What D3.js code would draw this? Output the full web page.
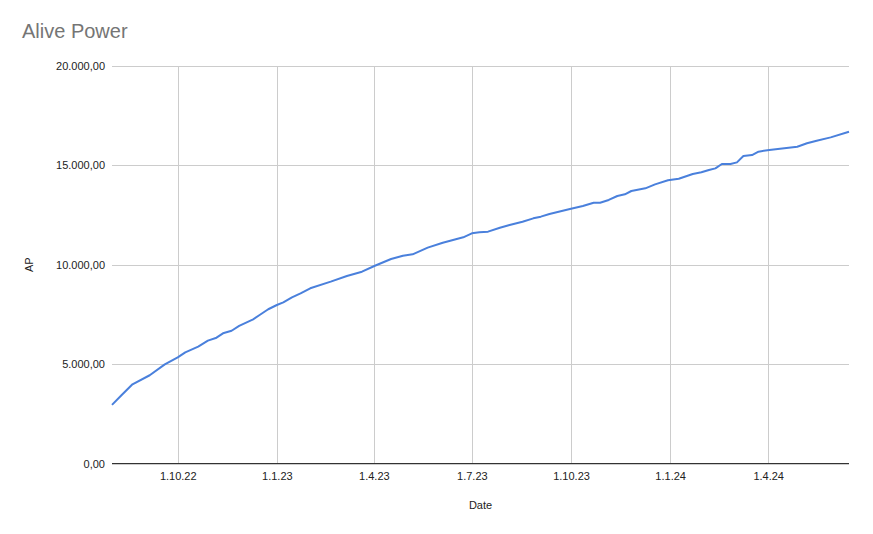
<!DOCTYPE html>
<html>
<head>
<meta charset="utf-8">
<script src="https://cdn.jsdelivr.net/npm/d3@7"></script>
<style>
  html, body { margin: 0; padding: 0; background: #fff; }
  svg { display: block; font-family: Arial, "Liberation Sans", sans-serif; }
</style>
</head>
<body>
<svg id="chart" width="873" height="534"></svg>
<script>
const title = "Alive Power";
const xAxisTitle = "Date";
const yAxisTitle = "AP";

const dates = [
  "2022-08-01","2022-08-10","2022-08-20","2022-09-05","2022-09-19","2022-10-01","2022-10-08",
  "2022-10-20","2022-10-29","2022-11-06","2022-11-12","2022-11-20","2022-11-27",
  "2022-12-10","2022-12-16","2022-12-24","2023-01-01","2023-01-07","2023-01-15",
  "2023-01-23","2023-02-01","2023-02-20","2023-03-07","2023-03-21","2023-04-02",
  "2023-04-17","2023-04-28","2023-05-07","2023-05-21","2023-06-04","2023-06-23",
  "2023-07-01","2023-07-08","2023-07-16","2023-07-27","2023-08-05","2023-08-17",
  "2023-08-27","2023-09-03","2023-09-11","2023-09-30","2023-10-12","2023-10-22",
  "2023-10-28","2023-11-05","2023-11-13","2023-11-20","2023-11-26","2023-12-09",
  "2023-12-18","2023-12-30","2024-01-09","2024-01-22","2024-01-30","2024-02-06",
  "2024-02-12","2024-02-18","2024-02-26","2024-03-03","2024-03-09","2024-03-17",
  "2024-03-23","2024-04-02","2024-04-28","2024-05-07","2024-05-16","2024-05-29",
  "2024-06-15"
];
const apValues = [
  2950, 3450, 3985, 4440, 4990, 5340, 5595,
  5880, 6180, 6330, 6550, 6680, 6920,
  7255, 7470, 7760, 7975, 8110, 8360,
  8560, 8815, 9150, 9435, 9650, 9950,
  10290, 10455, 10525, 10860, 11110, 11380,
  11580, 11630, 11665, 11865, 12000, 12165,
  12335, 12420, 12555, 12805, 12955, 13120,
  13120, 13260, 13460, 13545, 13710, 13845,
  14045, 14250, 14330, 14565, 14650, 14765,
  14850, 15070, 15070, 15150, 15470, 15520,
  15690, 15775, 15940, 16110, 16240, 16410,
  16695
];
const yTicks = [0, 5000, 10000, 15000, 20000];
const xTickDates = ["2022-10-01","2023-01-01","2023-04-01","2023-07-01","2023-10-01","2024-01-01","2024-04-01"];

const parse = d3.utcParse("%Y-%m-%d");
const data = dates.map((d, i) => ({ date: parse(d), value: apValues[i] }));

const margin = { left: 112, right: 24, top: 66, bottom: 70.5 };
const W = 873, H = 534;
const svg = d3.select("#chart");

const x = d3.scaleUtc()
  .domain(d3.extent(data, d => d.date))
  .range([margin.left, W - margin.right]);
const y = d3.scaleLinear()
  .domain([0, 20000])
  .range([H - margin.bottom, margin.top]);

const fmtNum = v => d3.format(",.2f")(v).replace(/,/g, "X").replace(/\./g, ",").replace(/X/g, ".");
const fmtDate = d => `${d.getUTCDate()}.${d.getUTCMonth() + 1}.${String(d.getUTCFullYear()).slice(2)}`;

// title
svg.append("text")
  .attr("x", 22).attr("y", 38)
  .attr("fill", "#757575")
  .attr("font-size", 20)
  .text(title);

// horizontal gridlines + y labels
const yAxis = d3.axisLeft(y).tickValues(yTicks).tickSize(-(W - margin.left - margin.right)).tickPadding(7).tickFormat(fmtNum);
const gy = svg.append("g").attr("transform", `translate(${margin.left},0)`).call(yAxis);
gy.select(".domain").remove();
gy.selectAll(".tick line").attr("stroke", "#cccccc").attr("shape-rendering", "crispEdges");
gy.selectAll(".tick text").attr("fill", "#222").attr("font-size", 11).attr("font-family", "Arial, 'Liberation Sans', sans-serif");

// vertical gridlines + x labels
const xAxis = d3.axisBottom(x).tickValues(xTickDates.map(parse)).tickSize(-(H - margin.top - margin.bottom)).tickPadding(9).tickFormat(fmtDate);
const gx = svg.append("g").attr("transform", `translate(0,${H - margin.bottom})`).call(xAxis);
gx.select(".domain").remove();
gx.selectAll(".tick line").attr("stroke", "#cccccc").attr("shape-rendering", "crispEdges");
gx.selectAll(".tick text").attr("fill", "#222").attr("font-size", 11).attr("font-family", "Arial, 'Liberation Sans', sans-serif");

// baseline
svg.append("line")
  .attr("x1", margin.left).attr("x2", W - margin.right)
  .attr("y1", y(0)).attr("y2", y(0))
  .attr("stroke", "#333").attr("stroke-width", 1.2);

// line
svg.append("path")
  .datum(data)
  .attr("fill", "none")
  .attr("stroke", "#4a80dc")
  .attr("stroke-width", 2)
  .attr("stroke-linejoin", "round")
  .attr("d", d3.line().x(d => x(d.date)).y(d => y(d.value)));

// axis titles
svg.append("text")
  .attr("x", (margin.left + W - margin.right) / 2).attr("y", 509)
  .attr("text-anchor", "middle")
  .attr("font-size", 11).attr("fill", "#222")
  .text(xAxisTitle);
svg.append("text")
  .attr("transform", `translate(33,${(margin.top + H - margin.bottom) / 2}) rotate(-90)`)
  .attr("text-anchor", "middle")
  .attr("font-size", 11).attr("fill", "#222")
  .text(yAxisTitle);
</script>
</body>
</html>
